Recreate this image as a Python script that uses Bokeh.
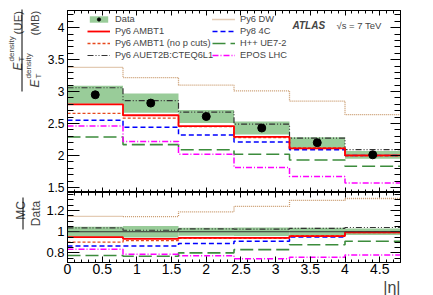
import numpy as np
from bokeh.plotting import figure
from bokeh.models import (Range1d, LinearAxis, SingleIntervalTicker, Legend, LegendItem,
                          Label, Span, NumeralTickFormatter, Arrow, CustomLabelingPolicy, Title)
from bokeh.layouts import column, row
from bokeh.embed import file_html
from bokeh.resources import INLINE

# ---------------- data ----------------
eta_edges = [0.0, 0.8, 1.6, 2.4, 3.2, 4.0, 4.8]
data = [2.95, 2.82, 2.61, 2.43, 2.20, 2.01]
data_err = [0.14, 0.15, 0.10, 0.10, 0.085, 0.06]
py6_ambt1 = [2.80, 2.63, 2.46, 2.29, 2.11, 2.00]
py6_ambt1_nopcut = [2.66, 2.585, 2.45, 2.28, 2.12, 1.995]
py6_auet2b = [3.06, 2.86, 2.68, 2.49, 2.27, 2.09]
py6_dw = [3.38, 3.22, 3.10, 3.01, 2.85, 2.64]
py8_4c = [2.55, 2.44, 2.32, 2.21, 2.09, 2.00]
hpp_ue72 = [2.29, 2.17, 2.09, 2.02, 1.93, 1.83]
epos_lhc = [2.46, 2.22, 2.02, 1.81, 1.67, 1.57]

FONT = "Liberation Sans"
X0, X1 = 0.0, 4.8
YT0, YT1 = 1.42, 4.27
YB0, YB1 = 0.71, 1.37
FW, FHT, FHB = 333, 182, 70
LW = 43            # width of the strip holding the y titles
BL = 65 - LW       # left border of the panels
TOTAL_H = 10 + FHT + FHB + 31

edges = np.array(eta_edges)
centers = 0.5 * (edges[:-1] + edges[1:])
d = np.array(data)
de = np.array(data_err)

series = [
    ("Py6 DW", py6_dw, "#c8986a", "1 1", 1.3),
    ("H++ UE7-2", hpp_ue72, "#3c8c3c", "13 5", 1.6),
    ("EPOS LHC", epos_lhc, "#ff00ff", "6 2 1 2", 1.5),
    ("Py8 4C", py8_4c, "#0000ff", "5 3", 1.5),
    ("Py6 AUET2B:CTEQ6L1", py6_auet2b, "#333333", "6 2 1 2 1 2", 1.2),
    ("Py6 AMBT1 (no p cuts)", py6_ambt1_nopcut, "#e8481c", "3 2", 1.3),
    ("Py6 AMBT1", py6_ambt1, "#ff0000", "solid", 1.8),
]

NO_LABELS = CustomLabelingPolicy(code="""
try { for (const i of Array.from(indices)) { indices.unset(i) } } catch (e) {}
return indices
""")


def style_axis(ax, interval, nminor, major_in, minor_in, labels, size="12px", standoff=3):
    ax.ticker = SingleIntervalTicker(interval=interval, num_minor_ticks=nminor)
    ax.major_tick_in = major_in
    ax.major_tick_out = 0
    ax.minor_tick_in = minor_in
    ax.minor_tick_out = 0
    ax.axis_line_color = "black"
    ax.major_tick_line_color = "black"
    ax.minor_tick_line_color = "black"
    ax.formatter = NumeralTickFormatter(format="0.[0]")
    if labels:
        ax.major_label_text_font = FONT
        ax.major_label_text_font_size = size
        ax.major_label_text_color = "black"
        ax.major_label_standoff = standoff
    else:
        ax.major_label_policy = NO_LABELS
        ax.major_label_text_font_size = "0px"
        ax.major_label_standoff = 0


def make_fig(fh, y0, y1, top_border, bottom_border):
    f = figure(frame_width=FW, frame_height=fh, x_range=Range1d(X0, X1), y_range=Range1d(y0, y1),
               output_backend="svg", toolbar_location=None,
               min_border_left=BL, min_border_right=35,
               min_border_top=top_border, min_border_bottom=bottom_border,
               background_fill_color="white", border_fill_color="white",
               outline_line_color="black")
    f.xgrid.visible = False
    f.ygrid.visible = False
    return f

# ---------------- top panel ----------------
top = make_fig(FHT, YT0, YT1, 10, 0)
style_axis(top.yaxis[0], 0.5, 5, 12, 6, True, "12px", 3)
style_axis(top.xaxis[0], 0.5, 5, 5, 3, False)
ax = LinearAxis(); style_axis(ax, 0.5, 5, 10, 6, False); top.add_layout(ax, "right")
ax = LinearAxis(); style_axis(ax, 0.5, 5, 5, 3, False); top.add_layout(ax, "above")

band_t = top.quad(left=edges[:-1], right=edges[1:], bottom=d - de, top=d + de,
                  fill_color="#99cc99", line_color=None)
rend = {}
for name, vals, col, dash, lw in series:
    rend[name] = top.step(x=edges, y=list(vals) + [vals[-1]], mode="after",
                          line_color=col, line_dash=dash, line_width=lw)
pts = top.scatter(x=centers, y=d, size=8, color="black")

left_items = [LegendItem(label="Data", renderers=[band_t, pts])] + \
    [LegendItem(label=n, renderers=[rend[n]]) for n in
     ["Py6 AMBT1", "Py6 AMBT1 (no p cuts)", "Py6 AUET2B:CTEQ6L1"]]
right_items = [LegendItem(label=n, renderers=[rend[n]]) for n in
               ["Py6 DW", "Py8 4C", "H++ UE7-2", "EPOS LHC"]]
for items, loc in ((left_items, (20, 131)), (right_items, (145, 131))):
    lg = Legend(items=items, location=loc, label_text_font=FONT, label_text_font_size="9.3px",
                glyph_width=23, glyph_height=8, label_height=12, spacing=0, label_standoff=5,
                padding=0, margin=0, border_line_alpha=0, background_fill_alpha=0)
    top.add_layout(lg)

top.add_layout(Label(x=3.243, y=4.035, text="ATLAS", text_font=FONT, text_font_style="bold italic",
                     text_font_size="10px", text_baseline="alphabetic"))
top.add_layout(Label(x=3.877, y=4.035, text="√s = 7 TeV", text_font=FONT,
                     text_font_size="9.5px", text_baseline="alphabetic"))

# ---------------- bottom panel ----------------
bot = make_fig(FHB, YB0, YB1, 0, 31)
style_axis(bot.yaxis[0], 0.2, 4, 12, 6, True, "13px", 3)
style_axis(bot.xaxis[0], 0.5, 5, 6, 3, True, "14px", 1)
ax = LinearAxis(); style_axis(ax, 0.2, 4, 10, 6, False); bot.add_layout(ax, "right")
ax = LinearAxis(); style_axis(ax, 0.5, 5, 5, 3, False); bot.add_layout(ax, "above")

bot.quad(left=edges[:-1], right=edges[1:], bottom=1 - de / d, top=1 + de / d,
         fill_color="#99cc99", line_color=None)
bot.add_layout(Span(location=1.0, dimension="width", line_color="#333333", line_width=1))
for name, vals, col, dash, lw in series:
    r = np.array(vals) / d
    bot.step(x=edges, y=list(r) + [r[-1]], mode="after",
             line_color=col, line_dash=dash, line_width=lw)

xa = bot.xaxis[0]
try:
    xa.axis_label = "|η|"
    xa.axis_label_align = "right"
    xa.axis_label_text_font = FONT
    xa.axis_label_text_font_size = "16px"
    xa.axis_label_text_font_style = "normal"
    xa.axis_label_standoff = -5
except Exception:
    xa.axis_label = None
    bot.add_layout(Title(text="|η|", align="right", text_font=FONT, text_font_size="16px",
                         text_font_style="normal", standoff=0), "below")

# ---------------- strip with y titles (page pixel coordinates) ----------------
lab = figure(width=LW, height=TOTAL_H, x_range=Range1d(0, LW), y_range=Range1d(TOTAL_H, 0),
             x_axis_type=None, y_axis_type=None, output_backend="svg", toolbar_location=None,
             min_border=0, outline_line_color=None, background_fill_color="white",
             border_fill_color="white")
lab.xgrid.visible = False
lab.ygrid.visible = False
A = np.pi / 2
# (baseline x, start of E, start of density/T, start of word)
for bx, e0, s0, w0, word in ((17.5, 70, 61, 34, "(UE)"), (34.5, 87, 78, 35, "(MB)")):
    lab.add_layout(Label(x=bx, y=e0, text="E", angle=A, text_font=FONT, text_font_style="italic",
                         text_font_size="12px", text_baseline="alphabetic", text_align="left"))
    lab.add_layout(Label(x=bx - 6.5, y=s0, text="density", angle=A, text_font=FONT,
                         text_font_size="8px", text_baseline="alphabetic", text_align="left"))
    lab.add_layout(Label(x=bx + 3.5, y=s0, text="T", angle=A, text_font=FONT,
                         text_font_size="8px", text_baseline="alphabetic", text_align="left"))
    lab.add_layout(Label(x=bx, y=w0, text=word, angle=A, text_font=FONT,
                         text_font_size="11.5px", text_baseline="alphabetic", text_align="left"))
lab.add_layout(Arrow(x_start=21.5, y_start=9, x_end=21.5, y_end=91,
                     start=None, end=None, line_color="black", line_width=1))
lab.add_layout(Label(x=20, y=210, text="MC", angle=A, text_font=FONT, text_font_size="12px",
                     text_baseline="alphabetic", text_align="center"))
lab.add_layout(Label(x=35.5, y=213, text="Data", angle=A, text_font=FONT, text_font_size="12px",
                     text_baseline="alphabetic", text_align="center"))
lab.add_layout(Arrow(x_start=22.5, y_start=197, x_end=22.5, y_end=229,
                     start=None, end=None, line_color="black", line_width=1))

layout = row(lab, column(top, bot, spacing=0), spacing=0)
open("out.html", "w").write(file_html(layout, INLINE))
